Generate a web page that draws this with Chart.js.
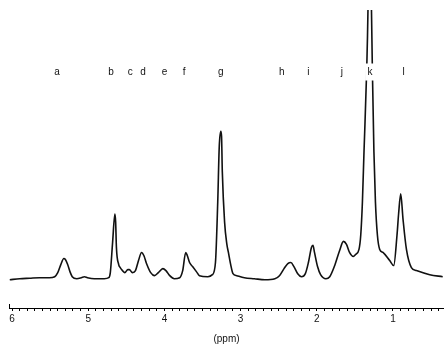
<!DOCTYPE html>
<html>
<head>
<meta charset="utf-8">
<script src="https://cdn.jsdelivr.net/npm/chart.js@4.4.0/dist/chart.umd.min.js"></script>
<style>
  html, body { margin: 0; padding: 0; background: #fff; }
</style>
</head>
<body>
<canvas id="spectrum" width="444" height="345"></canvas>
<script>
// chemical shift (ppm) and signal height
const shiftPpm = [
  6.03, 5.90, 5.77, 5.64, 5.51, 5.44, 5.40, 5.36, 5.32, 5.30, 5.27, 5.24, 5.21, 5.15,
  5.09, 5.05, 5.01, 4.92, 4.79, 4.73, 4.71, 4.68, 4.65, 4.64, 4.63, 4.60, 4.58, 4.55,
  4.52, 4.48, 4.46, 4.42, 4.38, 4.34, 4.30, 4.27, 4.23, 4.18, 4.13, 4.08, 4.02, 3.98,
  3.93, 3.87, 3.80, 3.76, 3.72, 3.70, 3.67, 3.63, 3.58, 3.54, 3.43, 3.37, 3.33, 3.30,
  3.28, 3.26, 3.25, 3.24, 3.21, 3.18, 3.16, 3.13, 3.10, 3.05, 2.95, 2.82, 2.68, 2.55,
  2.49, 2.43, 2.38, 2.34, 2.30, 2.25, 2.20, 2.15, 2.11, 2.07, 2.05, 2.03, 1.99, 1.95,
  1.88, 1.83, 1.77, 1.70, 1.65, 1.61, 1.57, 1.52, 1.49, 1.446, 1.423, 1.401, 1.380,
  1.345, 1.328, 1.305, 1.282, 1.270, 1.250, 1.230, 1.204, 1.174, 1.131, 1.043, 0.990,
  0.947, 0.925, 0.898, 0.868, 0.823, 0.758, 0.692, 0.517, 0.347
];
const intensity = [
  -1, 0, 0.5, 1, 1, 2, 6, 14, 20, 19, 14, 7, 2, 0,
  1, 2, 1, 0, 0, 1, 6, 36, 64, 56, 31, 14, 11, 8,
  6, 9, 9, 6, 8, 18, 26, 23, 14, 6, 3, 6, 10, 8,
  3, 0, 1, 8, 26, 23, 16, 12, 7, 3, 2, 4, 16, 76,
  131, 146, 141, 106, 56, 34, 26, 14, 5, 3, 1, 0, -1, 0,
  3, 10, 15, 16, 12, 5, 2, 5, 16, 31, 33, 26, 12, 4,
  0, 2, 12, 28, 37, 34, 26, 22, 24, 29, 43, 76, 126,
  206, 266, 420, 266, 206, 126, 76, 43, 29, 26, 18, 13,
  43, 65, 84, 59, 29, 11, 8, 4, 2
];

const peakLabels = ['a', 'b', 'c', 'd', 'e', 'f', 'g', 'h', 'i', 'j', 'k', 'l'];
const peakLabelPpm = [5.41, 4.70, 4.45, 4.28, 4.00, 3.74, 3.26, 2.46, 2.11, 1.67, 1.30, 0.86];

const axisLabels = [6, 5, 4, 3, 2, 1];

const labelFont = '10px "Liberation Sans", Arial, sans-serif';

const peakLabelPlugin = {
  id: 'peakLabels',
  afterDatasetsDraw(chart) {
    const ctx = chart.ctx;
    const xs = chart.scales.x;
    const area = chart.chartArea;
    ctx.save();
    // little upturn at the left end of the axis
    ctx.strokeStyle = '#000';
    ctx.lineWidth = 1;
    ctx.beginPath();
    ctx.moveTo(area.left + 0.5, area.bottom);
    ctx.lineTo(area.left + 0.5, area.bottom - 4);
    ctx.stroke();

    ctx.font = labelFont;
    ctx.textAlign = 'center';
    ctx.textBaseline = 'middle';
    peakLabels.forEach((lab, i) => {
      const px = xs.getPixelForValue(peakLabelPpm[i]);
      const py = area.top + 62;
      ctx.fillStyle = '#fff';
      ctx.fillRect(px - 5, py - 8.5, 10, 17);
      ctx.fillStyle = '#111';
      ctx.fillText(lab, px, py);
    });
    ctx.restore();
  }
};

const ctx = document.getElementById('spectrum').getContext('2d');
new Chart(ctx, {
  type: 'line',
  data: {
    datasets: [{
      data: shiftPpm.map((p, i) => ({ x: p, y: intensity[i] })),
      borderColor: '#111',
      borderWidth: 1.6,
      pointRadius: 0,
      fill: false,
      cubicInterpolationMode: 'monotone'
    }]
  },
  options: {
    responsive: false,
    animation: false,
    layout: { padding: { top: 10, left: 9, right: 0, bottom: 0 } },
    plugins: {
      legend: { display: false },
      tooltip: { enabled: false }
    },
    scales: {
      x: {
        type: 'linear',
        reverse: true,
        min: 0.33,
        max: 6.04,
        afterBuildTicks: (scale) => {
          const t = [];
          for (let v = 60; v >= 4; v--) t.push({ value: v / 10 });
          scale.ticks = t;
        },
        grid: {
          drawOnChartArea: false,
          drawTicks: true,
          tickLength: 3,
          color: '#000',
          lineWidth: 1
        },
        border: { display: true, color: '#000', width: 1 },
        ticks: {
          autoSkip: false,
          maxRotation: 0,
          padding: 2,
          color: '#111',
          font: { family: '"Liberation Sans", Arial, sans-serif', size: 10 },
          callback: (value) => {
            const r = Math.round(value);
            return Math.abs(value - r) < 1e-6 && axisLabels.includes(r) ? String(r) : '';
          }
        },
        title: {
          display: true,
          text: '(ppm)',
          color: '#111',
          font: { family: '"Liberation Sans", Arial, sans-serif', size: 10 },
          padding: { top: 6, bottom: 0 }
        }
      },
      y: {
        display: false,
        min: -29,
        max: 266
      }
    }
  },
  plugins: [peakLabelPlugin]
});
</script>
</body>
</html>
